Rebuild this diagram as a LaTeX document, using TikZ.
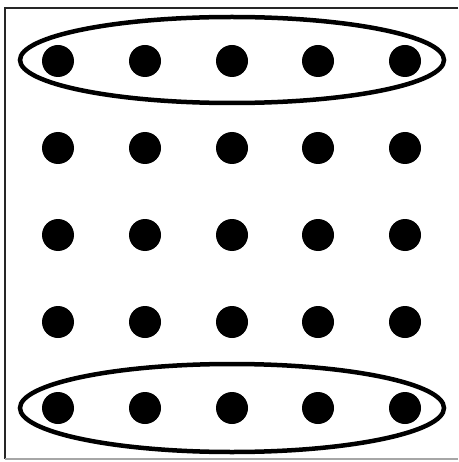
\documentclass[tikz,border=0pt]{standalone}
\begin{document}
\begin{tikzpicture}[x=1pt,y=-1pt,
  dot/.style={circle,fill=black,minimum size=32pt,inner sep=0pt},
  ring/.style={line width=4.5pt,draw=black}]
\useasboundingbox (0,0) rectangle (458,462);
\fill[white] (0,0) rectangle (458,462);
\draw[line width=1.2pt,black!85] (458,8) -- (5,8) -- (5,459);
\draw[line width=1.2pt,black!35] (5,459) -- (458,459);
\foreach \r/\y in {1/61,2/148,3/235,4/322,5/408}{
  \foreach \c/\x in {1/58,2/145,3/232,4/318,5/405}{
    \node[dot] (d\r\c) at (\x,\y) {};
  }
}
\draw[ring] (232,60) ellipse [x radius=212, y radius=43];
\draw[ring] (232,408) ellipse [x radius=212, y radius=44];
\end{tikzpicture}
\end{document}
